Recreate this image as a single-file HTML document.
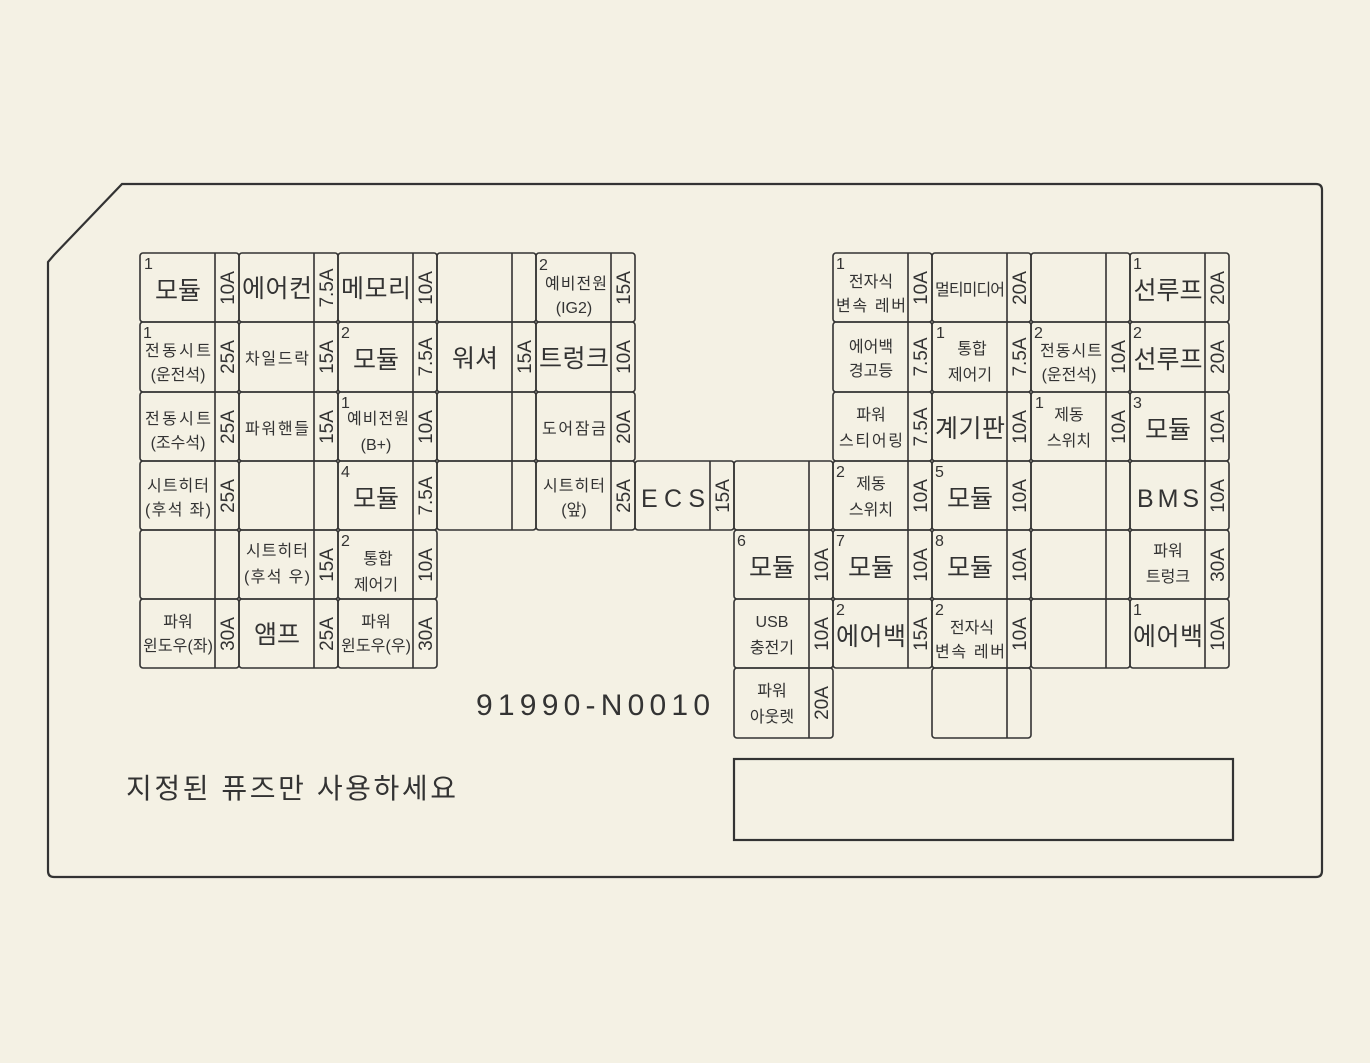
<!DOCTYPE html>
<html><head><meta charset="utf-8"><style>
html,body{margin:0;padding:0;background:#f4f1e4;}
svg{display:block}
.c rect,.c line{fill:none;stroke:#333;stroke-width:1.6}
text{font-family:"Liberation Sans","Noto Sans CJK KR","NanumGothic",sans-serif;fill:#333}
.m{font-size:25px;text-anchor:middle}
.s{font-size:16px;text-anchor:middle}
.n{font-size:16px}
.r{font-size:19px;text-anchor:middle}
</style></head><body>
<svg width="1370" height="1063" viewBox="0 0 1370 1063">
<path d="M54 255 L122 184 L1316 184 Q1322 184 1322 190 L1322 871 Q1322 877 1316 877 L54 877 Q48 877 48 871 L48 262 Z" fill="none" stroke="#333" stroke-width="2.2"/>
<rect x="734" y="759" width="499" height="81" fill="none" stroke="#333" stroke-width="2.2"/>
<text x="476" y="715" style="font-size:30px" textLength="234">91990-N0010</text>
<text x="126" y="798" style="font-size:28px" textLength="330">지정된  퓨즈만  사용하세요</text>

<g class="c">
<!-- Row 0 -->
<g transform="translate(140,253)"><rect width="99" height="69" rx="3"/><line x1="75" y1="0" x2="75" y2="69"/><text class="n" x="4" y="16">1</text><text class="m" x="38" y="46">모듈</text><text class="r" transform="translate(94,35) rotate(-90)">10A</text></g>
<g transform="translate(239,253)"><rect width="99" height="69" rx="3"/><line x1="75" y1="0" x2="75" y2="69"/><text class="m" x="38" y="44" textLength="70">에어컨</text><text class="r" transform="translate(94,35) rotate(-90)">7.5A</text></g>
<g transform="translate(338,253)"><rect width="99" height="69" rx="3"/><line x1="75" y1="0" x2="75" y2="69"/><text class="m" x="38" y="44" textLength="70">메모리</text><text class="r" transform="translate(94,35) rotate(-90)">10A</text></g>
<g transform="translate(437,253)"><rect width="99" height="69" rx="3"/><line x1="75" y1="0" x2="75" y2="69"/></g>
<g transform="translate(536,253)"><rect width="99" height="69" rx="3"/><line x1="75" y1="0" x2="75" y2="69"/><text class="n" x="3" y="17">2</text><text class="s" x="40" y="36" textLength="62">예비전원</text><text class="s" x="38" y="60">(IG2)</text><text class="r" transform="translate(94,35) rotate(-90)">15A</text></g>
<g transform="translate(833,253)"><rect width="99" height="69" rx="3"/><line x1="75" y1="0" x2="75" y2="69"/><text class="n" x="3" y="16">1</text><text class="s" x="38" y="34">전자식</text><text class="s" x="38" y="58" textLength="70">변속 레버</text><text class="r" transform="translate(94,35) rotate(-90)">10A</text></g>
<g transform="translate(932,253)"><rect width="99" height="69" rx="3"/><line x1="75" y1="0" x2="75" y2="69"/><text class="s" x="38" y="42" textLength="70">멀티미디어</text><text class="r" transform="translate(94,35) rotate(-90)">20A</text></g>
<g transform="translate(1031,253)"><rect width="99" height="69" rx="3"/><line x1="75" y1="0" x2="75" y2="69"/></g>
<g transform="translate(1130,253)"><rect width="99" height="69" rx="3"/><line x1="75" y1="0" x2="75" y2="69"/><text class="n" x="3" y="16">1</text><text class="m" x="38" y="46">선루프</text><text class="r" transform="translate(94,35) rotate(-90)">20A</text></g>
<!-- Row 1 -->
<g transform="translate(140,322)"><rect width="99" height="70" rx="3"/><line x1="75" y1="0" x2="75" y2="70"/><text class="n" x="3" y="16">1</text><text class="s" x="38" y="34" textLength="66">전동시트</text><text class="s" x="38" y="58">(운전석)</text><text class="r" transform="translate(94,35) rotate(-90)">25A</text></g>
<g transform="translate(239,322)"><rect width="99" height="70" rx="3"/><line x1="75" y1="0" x2="75" y2="70"/><text class="s" x="38" y="42" textLength="64">차일드락</text><text class="r" transform="translate(94,35) rotate(-90)">15A</text></g>
<g transform="translate(338,322)"><rect width="99" height="70" rx="3"/><line x1="75" y1="0" x2="75" y2="70"/><text class="n" x="3" y="16">2</text><text class="m" x="38" y="46">모듈</text><text class="r" transform="translate(94,35) rotate(-90)">7.5A</text></g>
<g transform="translate(437,322)"><rect width="99" height="70" rx="3"/><line x1="75" y1="0" x2="75" y2="70"/><text class="m" x="38" y="45">워셔</text><text class="r" transform="translate(94,35) rotate(-90)">15A</text></g>
<g transform="translate(536,322)"><rect width="99" height="70" rx="3"/><line x1="75" y1="0" x2="75" y2="70"/><text class="m" x="38" y="45" textLength="70">트렁크</text><text class="r" transform="translate(94,35) rotate(-90)">10A</text></g>
<g transform="translate(833,322)"><rect width="99" height="70" rx="3"/><line x1="75" y1="0" x2="75" y2="70"/><text class="s" x="38" y="30">에어백</text><text class="s" x="38" y="54">경고등</text><text class="r" transform="translate(94,35) rotate(-90)">7.5A</text></g>
<g transform="translate(932,322)"><rect width="99" height="70" rx="3"/><line x1="75" y1="0" x2="75" y2="70"/><text class="n" x="4" y="16">1</text><text class="s" x="40" y="32">통합</text><text class="s" x="38" y="58">제어기</text><text class="r" transform="translate(94,35) rotate(-90)">7.5A</text></g>
<g transform="translate(1031,322)"><rect width="99" height="70" rx="3"/><line x1="75" y1="0" x2="75" y2="70"/><text class="n" x="3" y="16">2</text><text class="s" x="40" y="34" textLength="62">전동시트</text><text class="s" x="38" y="58">(운전석)</text><text class="r" transform="translate(94,35) rotate(-90)">10A</text></g>
<g transform="translate(1130,322)"><rect width="99" height="70" rx="3"/><line x1="75" y1="0" x2="75" y2="70"/><text class="n" x="3" y="16">2</text><text class="m" x="38" y="46">선루프</text><text class="r" transform="translate(94,35) rotate(-90)">20A</text></g>
<!-- Row 2 -->
<g transform="translate(140,392)"><rect width="99" height="69" rx="3"/><line x1="75" y1="0" x2="75" y2="69"/><text class="s" x="38" y="32" textLength="66">전동시트</text><text class="s" x="38" y="56">(조수석)</text><text class="r" transform="translate(94,35) rotate(-90)">25A</text></g>
<g transform="translate(239,392)"><rect width="99" height="69" rx="3"/><line x1="75" y1="0" x2="75" y2="69"/><text class="s" x="38" y="42" textLength="64">파워핸들</text><text class="r" transform="translate(94,35) rotate(-90)">15A</text></g>
<g transform="translate(338,392)"><rect width="99" height="69" rx="3"/><line x1="75" y1="0" x2="75" y2="69"/><text class="n" x="3" y="16">1</text><text class="s" x="40" y="32" textLength="62">예비전원</text><text class="s" x="38" y="58">(B+)</text><text class="r" transform="translate(94,35) rotate(-90)">10A</text></g>
<g transform="translate(437,392)"><rect width="99" height="69" rx="3"/><line x1="75" y1="0" x2="75" y2="69"/></g>
<g transform="translate(536,392)"><rect width="99" height="69" rx="3"/><line x1="75" y1="0" x2="75" y2="69"/><text class="s" x="38" y="42" textLength="64">도어잠금</text><text class="r" transform="translate(94,35) rotate(-90)">20A</text></g>
<g transform="translate(833,392)"><rect width="99" height="69" rx="3"/><line x1="75" y1="0" x2="75" y2="69"/><text class="s" x="38" y="28">파워</text><text class="s" x="38" y="54" textLength="64">스티어링</text><text class="r" transform="translate(94,35) rotate(-90)">7.5A</text></g>
<g transform="translate(932,392)"><rect width="99" height="69" rx="3"/><line x1="75" y1="0" x2="75" y2="69"/><text class="m" x="38" y="45" textLength="70">계기판</text><text class="r" transform="translate(94,35) rotate(-90)">10A</text></g>
<g transform="translate(1031,392)"><rect width="99" height="69" rx="3"/><line x1="75" y1="0" x2="75" y2="69"/><text class="n" x="4" y="16">1</text><text class="s" x="38" y="28">제동</text><text class="s" x="38" y="54">스위치</text><text class="r" transform="translate(94,35) rotate(-90)">10A</text></g>
<g transform="translate(1130,392)"><rect width="99" height="69" rx="3"/><line x1="75" y1="0" x2="75" y2="69"/><text class="n" x="3" y="16">3</text><text class="m" x="38" y="46">모듈</text><text class="r" transform="translate(94,35) rotate(-90)">10A</text></g>
<!-- Row 3 -->
<g transform="translate(140,461)"><rect width="99" height="69" rx="3"/><line x1="75" y1="0" x2="75" y2="69"/><text class="s" x="38" y="30" textLength="62">시트히터</text><text class="s" x="38" y="54" textLength="66">(후석 좌)</text><text class="r" transform="translate(94,35) rotate(-90)">25A</text></g>
<g transform="translate(239,461)"><rect width="99" height="69" rx="3"/><line x1="75" y1="0" x2="75" y2="69"/></g>
<g transform="translate(338,461)"><rect width="99" height="69" rx="3"/><line x1="75" y1="0" x2="75" y2="69"/><text class="n" x="3" y="16">4</text><text class="m" x="38" y="46">모듈</text><text class="r" transform="translate(94,35) rotate(-90)">7.5A</text></g>
<g transform="translate(437,461)"><rect width="99" height="69" rx="3"/><line x1="75" y1="0" x2="75" y2="69"/></g>
<g transform="translate(536,461)"><rect width="99" height="69" rx="3"/><line x1="75" y1="0" x2="75" y2="69"/><text class="s" x="38" y="30" textLength="62">시트히터</text><text class="s" x="38" y="54">(앞)</text><text class="r" transform="translate(94,35) rotate(-90)">25A</text></g>
<g transform="translate(635,461)"><rect width="99" height="69" rx="3"/><line x1="75" y1="0" x2="75" y2="69"/><text class="m" x="38" y="46" textLength="64">ECS</text><text class="r" transform="translate(94,35) rotate(-90)">15A</text></g>
<g transform="translate(734,461)"><rect width="99" height="69" rx="3"/><line x1="75" y1="0" x2="75" y2="69"/></g>
<g transform="translate(833,461)"><rect width="99" height="69" rx="3"/><line x1="75" y1="0" x2="75" y2="69"/><text class="n" x="3" y="16">2</text><text class="s" x="38" y="28">제동</text><text class="s" x="38" y="54">스위치</text><text class="r" transform="translate(94,35) rotate(-90)">10A</text></g>
<g transform="translate(932,461)"><rect width="99" height="69" rx="3"/><line x1="75" y1="0" x2="75" y2="69"/><text class="n" x="3" y="16">5</text><text class="m" x="38" y="46">모듈</text><text class="r" transform="translate(94,35) rotate(-90)">10A</text></g>
<g transform="translate(1031,461)"><rect width="99" height="69" rx="3"/><line x1="75" y1="0" x2="75" y2="69"/></g>
<g transform="translate(1130,461)"><rect width="99" height="69" rx="3"/><line x1="75" y1="0" x2="75" y2="69"/><text class="m" x="38" y="46" textLength="62">BMS</text><text class="r" transform="translate(94,35) rotate(-90)">10A</text></g>
<!-- Row 4 -->
<g transform="translate(140,530)"><rect width="99" height="69" rx="3"/><line x1="75" y1="0" x2="75" y2="69"/></g>
<g transform="translate(239,530)"><rect width="99" height="69" rx="3"/><line x1="75" y1="0" x2="75" y2="69"/><text class="s" x="38" y="26" textLength="62">시트히터</text><text class="s" x="38" y="52" textLength="66">(후석 우)</text><text class="r" transform="translate(94,35) rotate(-90)">15A</text></g>
<g transform="translate(338,530)"><rect width="99" height="69" rx="3"/><line x1="75" y1="0" x2="75" y2="69"/><text class="n" x="3" y="16">2</text><text class="s" x="40" y="34">통합</text><text class="s" x="38" y="60">제어기</text><text class="r" transform="translate(94,35) rotate(-90)">10A</text></g>
<g transform="translate(734,530)"><rect width="99" height="69" rx="3"/><line x1="75" y1="0" x2="75" y2="69"/><text class="n" x="3" y="16">6</text><text class="m" x="38" y="46">모듈</text><text class="r" transform="translate(94,35) rotate(-90)">10A</text></g>
<g transform="translate(833,530)"><rect width="99" height="69" rx="3"/><line x1="75" y1="0" x2="75" y2="69"/><text class="n" x="3" y="16">7</text><text class="m" x="38" y="46">모듈</text><text class="r" transform="translate(94,35) rotate(-90)">10A</text></g>
<g transform="translate(932,530)"><rect width="99" height="69" rx="3"/><line x1="75" y1="0" x2="75" y2="69"/><text class="n" x="3" y="16">8</text><text class="m" x="38" y="46">모듈</text><text class="r" transform="translate(94,35) rotate(-90)">10A</text></g>
<g transform="translate(1031,530)"><rect width="99" height="69" rx="3"/><line x1="75" y1="0" x2="75" y2="69"/></g>
<g transform="translate(1130,530)"><rect width="99" height="69" rx="3"/><line x1="75" y1="0" x2="75" y2="69"/><text class="s" x="38" y="26">파워</text><text class="s" x="38" y="52">트렁크</text><text class="r" transform="translate(94,35) rotate(-90)">30A</text></g>
<!-- Row 5 -->
<g transform="translate(140,599)"><rect width="99" height="69" rx="3"/><line x1="75" y1="0" x2="75" y2="69"/><text class="s" x="38" y="28">파워</text><text class="s" x="38" y="52" textLength="70">윈도우(좌)</text><text class="r" transform="translate(94,35) rotate(-90)">30A</text></g>
<g transform="translate(239,599)"><rect width="99" height="69" rx="3"/><line x1="75" y1="0" x2="75" y2="69"/><text class="m" x="38" y="44">앰프</text><text class="r" transform="translate(94,35) rotate(-90)">25A</text></g>
<g transform="translate(338,599)"><rect width="99" height="69" rx="3"/><line x1="75" y1="0" x2="75" y2="69"/><text class="s" x="38" y="28">파워</text><text class="s" x="38" y="52" textLength="70">윈도우(우)</text><text class="r" transform="translate(94,35) rotate(-90)">30A</text></g>
<g transform="translate(734,599)"><rect width="99" height="69" rx="3"/><line x1="75" y1="0" x2="75" y2="69"/><text class="s" x="38" y="28">USB</text><text class="s" x="38" y="54">충전기</text><text class="r" transform="translate(94,35) rotate(-90)">10A</text></g>
<g transform="translate(833,599)"><rect width="99" height="69" rx="3"/><line x1="75" y1="0" x2="75" y2="69"/><text class="n" x="3" y="16">2</text><text class="m" x="38" y="46" textLength="70">에어백</text><text class="r" transform="translate(94,35) rotate(-90)">15A</text></g>
<g transform="translate(932,599)"><rect width="99" height="69" rx="3"/><line x1="75" y1="0" x2="75" y2="69"/><text class="n" x="3" y="16">2</text><text class="s" x="40" y="34">전자식</text><text class="s" x="38" y="58" textLength="70">변속 레버</text><text class="r" transform="translate(94,35) rotate(-90)">10A</text></g>
<g transform="translate(1031,599)"><rect width="99" height="69" rx="3"/><line x1="75" y1="0" x2="75" y2="69"/></g>
<g transform="translate(1130,599)"><rect width="99" height="69" rx="3"/><line x1="75" y1="0" x2="75" y2="69"/><text class="n" x="3" y="16">1</text><text class="m" x="38" y="46" textLength="70">에어백</text><text class="r" transform="translate(94,35) rotate(-90)">10A</text></g>
<!-- Row 6 -->
<g transform="translate(734,668)"><rect width="99" height="70" rx="3"/><line x1="75" y1="0" x2="75" y2="70"/><text class="s" x="38" y="28">파워</text><text class="s" x="38" y="54">아웃렛</text><text class="r" transform="translate(94,35) rotate(-90)">20A</text></g>
<g transform="translate(932,668)"><rect width="99" height="70" rx="3"/><line x1="75" y1="0" x2="75" y2="70"/></g>
</g>
</svg>
</body></html>
